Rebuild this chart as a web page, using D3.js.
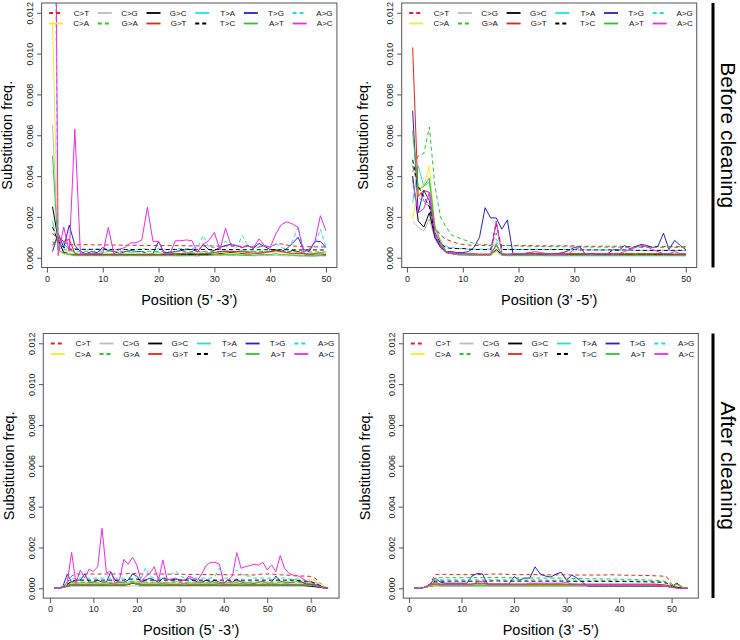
<!DOCTYPE html>
<html><head><meta charset="utf-8">
<script src="https://cdn.jsdelivr.net/npm/d3@7"></script>
<style>
body{margin:0;background:#fff}
svg{display:block}
text{font-family:"Liberation Sans",Arial,Helvetica,sans-serif}
</style>
</head><body>
<svg id="chart" width="740" height="640"></svg>
<script>
// All substitution frequencies below are given in units of 1e-4
const UNIT = 1e-4;
const substitutions = ["C>T","C>G","G>C","T>A","T>G","A>G","C>A","G>A","G>T","T>C","A>T","A>C"];
const subColors = ["#f01e1e","#bdbdbd","#000000","#22e0e0","#2323c8","#22e0e0","#f2ee2a","#2ec42e","#f01e1e","#000000","#2ec42e","#ee2aee"];
const subDashed = [true,false,false,false,false,true,false,true,false,true,false,false];
const yTickValues = [0,0.002,0.004,0.006,0.008,0.010,0.012];
const xTicksTop = [0,10,20,30,40,50];
const xTicksBottomLeft = [0,10,20,30,40,50,60];
const xTicksBottomRight = [0,10,20,30,40,50];
const rowLabels = ["Before cleaning","After cleaning"];
const xTitles = ["Position (5\u2019 -3\u2019)","Position (3\u2019 -5\u2019)"];
const yTitle = "Substitution freq.";

// ---- Before cleaning, 5'-3' (positions 1..50)
const b53_CT=[12,9,7.5,6.5,6.2,6.4,6.4,6.3,6.3,6.3,6.2,6.2,6.2,6.1,6.1,6.1,6.0,6.0,6.0,6.0,5.9,5.9,5.9,5.9,5.8,5.8,5.8,5.8,5.8,5.7,5.7,5.7,5.7,5.6,5.6,5.6,5.6,5.6,5.5,5.6,6.5,6.8,6.2,5.8,5.5,5.4,5.4,5.3,5.3,5.2];
const b53_CG=[65,8,3,2,1.5,1.2,1.2,1.1,1.1,1.0,1.2,1.0,1.1,1.0,1.2,1.1,1.0,1.0,1.1,1.2,1.0,1.1,1.0,0.9,1.0,1.1,0.8,1.2,1.0,1.1,1.0,1.2,1.1,1.0,1.0,1.1,0.9,1.0,1.1,1.0,1.2,1.0,0.9,1.0,0.8,0.5,0.5,0.6,1.0,1.0];
const b53_GC=[25,9,2.5,2,1.5,1.5,1.5,1.6,1.5,1.5,1.6,1.5,1.5,1.5,1.6,1.5,1.5,1.4,1.5,1.5,1.5,1.6,1.5,1.5,1.5,1.6,1.5,1.5,1.6,1.8,2,2.2,2.5,2.2,2,1.8,2,2.2,2.5,3,3.5,3,2.5,3.5,3,2,1.5,2,2.5,1.5];
const b53_TA=[18,5,7,4,2.5,2,2,2.2,2,2.5,2,2,2.2,2,2.5,2.2,2,2,2.2,2.5,2,2,2.2,2,2.5,2.5,2,3,2.5,2.5,3,3.5,3,3,3.5,3,3,2.5,3,2.5,3,3,2.5,2,2.5,2,1.5,2,2.5,2];
const b53_TG=[3,12,5,16,6,3,2,3,2.5,5,3.5,3,2,3,3.5,3,3,2,2,8,2.5,2.5,3,3.5,4,4,3,6.5,4,3.5,5,6,6.5,6,5,6,4.5,7,5.5,4,4,3,4.5,7,10,4,3,8,8,5];
const b53_AG=[300,5,8,5,4.5,4,4,4,4.2,4,4,4,4.2,4,4,4,4.5,4.2,4,4.5,4,4,4.2,4.5,4.5,4.5,5,11,5,5,6,8,7,5,11,6,5,5,6,5,7,5,4,8,15,4,4,6,14,5];
const b53_CA=[115,3,2,2,1.8,1.8,1.8,1.8,2,1.8,1.8,2,1.8,1.8,2,1.8,1.8,2,1.8,1.8,2,2,1.8,2,2,2,2,2.2,2,2,2.5,2.2,2,2,2.5,2.2,2,2,2.5,2.5,3,2.5,2.5,2,2.5,2,2,2.5,2,2];
const b53_GA=[8,5,4,3.5,3.2,3.2,3.2,3.2,3.2,3.2,3.2,3.2,3.1,3.1,3.1,3.1,3.1,3.1,3.1,3.1,3.0,3.0,3.0,3.0,3.0,3.0,3.0,3.0,3.0,3.0,3.0,3.0,3.0,3.0,3.0,3.0,3.0,3.0,3.0,3.2,3.5,3.2,3.0,3.0,2.8,2.8,2.8,2.8,2.8,2.8];
const b53_GT=[6,10,8,9,2,1.5,1.5,1.5,1.5,1.5,1.5,1.5,1.5,1.5,1.5,1.5,1.5,1.5,1.5,1.5,1.8,1.8,2,2,2.2,2,1.8,2,2,2.5,3,3,3.2,3,3,2.5,2.2,2.2,2.5,3,3.5,3,2.5,2,2,2,1.8,1.8,1.8,1.5];
const b53_TC=[15,8,5,4.2,4.1,4.1,4.1,4.1,4.1,4.1,4.1,4.0,4.0,4.0,4.0,4.0,4.0,4.0,4.0,4.0,4.0,4.0,4.0,4.0,4.0,4.0,4.0,4.0,4.0,4.0,4.0,4.0,4.0,4.0,3.9,3.9,3.9,3.9,3.9,3.9,3.9,3.9,3.9,3.9,3.8,3.8,3.8,3.8,3.8,3.8];
const b53_AT=[50,4,2,1.5,1,1,1,1,1,1,1,1,1,1,1,1,1,1,1,1,1,1,1,1,1,1,1,1.2,1.2,1.5,1.5,1.5,1.5,1.5,1.2,1.2,1.2,1.5,1.5,1.5,2,1.5,1.5,1.2,1.2,1.2,1,1,1,1];
const b53_AC=[400,1,15,3,63,1.8,2,2,2,2,14.9,1.8,4.2,5,7.3,7.3,8.7,24.7,8,8,2,1.8,8.3,8.3,8.7,8.3,2.6,6.7,8.3,12.4,3.8,14.5,5.9,5.9,5,5.9,4.7,9.2,5.9,5,11.6,16.2,17.6,16.5,14.9,2.6,4.2,7.5,20.6,13.2];

// ---- Before cleaning, 3'-5' (positions 1..50)
const b35_CT=[45,35,28,25,15,11,9,8,7,6.5,6.2,6,6,6,6,12,6,6,6,6,6,6,5.8,5.8,5.8,5.8,5.8,5.8,5.8,5.8,5.6,5.6,5.6,5.6,5.6,5.6,5.6,5.6,5.5,5.5,5.5,5.5,5.5,5.5,5.5,5.5,5.4,5.4,5.4,5.4];
const b35_CG=[18,15,13,19,9,5,2.5,2,1.5,1.2,1.2,1.3,1.2,1.1,1.2,3,1.2,1.2,1.3,1.2,1.2,1.1,1.2,1.2,1.2,1.3,1.2,1.2,1.1,1.2,1.2,1.2,1.3,1.2,1.2,1.1,1.2,1.2,1.2,1.3,1.2,1.2,1.1,1.2,1.2,1.2,1.3,1.2,1.2,1.2];
const b35_GC=[40,18,15,22,10,6,2.5,2,1.5,1.5,1.5,1.5,1.4,1.5,1.5,4,1.5,1.5,1.6,1.5,1.5,1.5,1.4,1.5,1.5,1.5,1.6,1.5,1.5,1.5,1.5,1.4,1.5,1.5,1.5,1.6,1.5,1.5,1.5,1.5,1.4,1.5,1.5,1.5,1.6,1.5,1.5,1.5,1.5,1.5];
const b35_TA=[27,45,35,37,15,8,3,2,2,1.5,1.5,1.5,1.5,1.5,1.5,3,1.2,1.2,1.2,1.2,1.2,1.2,1.2,1.2,1,1,1,1,1,1,1,1,1,1,1,1,1,1,1,1,1,1,1,1,1,1,1,1,1,1];
const b35_TG=[72,22,33,28,10,5,3,3,2.5,2.5,3,5,10,24.5,19.5,19.5,14,18.5,2,1.5,2,2.5,2,1.5,1.5,1.5,2,2.5,3.5,5,5.5,1.5,2,2,1.5,2,4,3.5,6,4.5,5.5,6.5,6,5,5.5,12,4,8.5,6,4];
const b35_AG=[30,30,27,25,14,8,5.5,5,4.5,4.5,4.2,4.2,4.2,4.2,4.2,8,4.2,4,4,4,4,4,4,4,4,4,4,4,4,4,3.8,3.8,3.8,3.8,3.8,3.8,3.8,3.8,3.8,3.8,3.6,3.6,3.6,3.6,3.6,3.6,3.6,3.5,3.5,3.5];
const b35_CA=[19,35,35,45,15,7,3,2,1.5,1.5,1.2,1.2,1.2,1.2,1.2,3,1.2,1.2,1.2,1.2,1.2,1.2,1.2,1.2,1.2,1.2,1.2,1.2,1.2,1.2,1.2,1.2,1.2,1.2,1.2,1.2,1.2,1.2,1.2,1.2,1.2,1.2,1.2,1.2,1.2,1.2,1.2,1.2,1.2,1.2];
const b35_GA=[42,50,51,64,35,20,15,11,10,9,8,7,6.5,6.5,6,9,6,6,5.8,5.8,5.6,5.6,5.5,5.5,5.5,5.4,5.4,5.4,5.3,5.3,5.3,5.2,5.2,5.2,5.2,5.1,5.1,5.1,5.1,5,5,5,5,5,5,5,5,5,5,5];
const b35_GT=[103,30,33,32,12,7,3,2.5,2,2,1.8,1.8,1.8,1.8,1.8,6,1.8,1.8,1.8,2,2,2,2,2,2,2,2,2,2,2,2,2,2,2,2,2,2,2,2,2,2,2,2,2,2,2,2,1.8,1.8,1.8];
const b35_TC=[48,35,30,25,12,7,5,4.5,4.5,4.5,4.2,4,4,4,4,17,4,4,4,4,4,4,4,4,4,4,4,4,4,4,3.8,3.8,3.8,3.8,3.8,3.8,3.8,3.8,3.8,3.8,3.6,3.6,3.6,3.6,3.6,3.6,3.6,3.6,3.6,3.6];
const b35_AT=[62,33,35,39,15,8,3,2,1.5,1.5,1.2,1.2,1.2,1.2,1.2,7,1.2,1,1,1,1,1,1,1,1,1,1,1,1,1,1,1,1,1,1,1,1,1,1,1,1,1,1,1,1,1,1,1,1,1];
const b35_AC=[38,22,24,32,12,6,3,2,2,2,2,2,1.5,1.5,1.5,18,2,1.5,2,2,2,2.5,3,2.5,2,1.5,1.5,1.5,2,4,5,2,1.5,2,2,2,1.5,2,3,4,5,6,5.5,4,3,2,2,3,2,2];

// ---- After cleaning, 5'-3' (positions 1..64)
const a53_CT=[0,0,1,3,6,7,7,7, 7,7,7,7,7,7,7,7, 7,7.2,7.3,7.2,7,7,7,7, 7,7,6.9,6.9,6.9,6.9,6.8,6.8, 6.8,6.8,6.8,6.7,6.7,6.7,6.7,6.7, 6.6,6.6,6.6,6.6,6.6,6.6,6.5,6.8, 7,7,7,6.8,6.6,6.5,6.4,6.2, 6,6,6,5.8,5,3,1,0];
const a53_CG=[0,0,0.3,0.8,1,1,1,1.1, 1,1,1.1,1,1,1,1.1,1, 1,1,1.2,1.1,1,1,1,1.1, 1,1,1,1,1.1,1,1,1, 1.1,1,1,1,1,1.1,1,1, 1,1,1.1,1,1,1,1,1.1, 1,1,1,1,1.1,1,1,1, 1,1,1,1,0.8,0.5,0.2,0];
const a53_GC=[0,0,0.5,1,1.5,1.5,1.5,1.5, 1.5,1.5,1.5,1.5,1.5,1.5,1.5,1.5, 1.5,1.8,2.5,2,1.5,1.5,1.5,1.5, 1.5,1.5,1.5,1.5,1.5,1.5,1.5,1.5, 1.5,1.5,1.5,1.5,1.5,1.5,1.5,1.5, 1.5,1.5,1.5,1.5,1.5,1.5,1.5,1.5, 1.5,1.5,1.5,1.5,1.5,1.5,1.5,1.5, 1.5,1.5,1.2,1,0.8,0.5,0.2,0];
const a53_TA=[0,0,0.5,2,3,2.5,3,3, 2.5,3,2.5,2.5,3,2.5,2.5,3, 2.5,3,3.5,3,2.5,3,2.5,3, 2.5,3,2.5,3,3.5,2.5,2.5,3, 2.5,2.5,3,2.5,2.5,3,2.5,2.5, 3,2.5,3,3.5,3,2.5,2.5,3, 2.5,3,2.5,2.5,3,2.5,2.5,4, 5,3,2.5,2,1.5,1,0.5,0];
const a53_TG=[0,0,1,7,3,4,4,7, 3,3,4,3,3,8,4,3, 3,4,7,6,3,4,5,4, 3,5,4.5,4,4.5,4,4,5, 4,3,3,4,3,4,3,2.5, 4,3,4.5,3,2.5,3,2.5,3, 3.5,2.5,3,6,3.5,3,3,3, 3.5,3,2,2,2,1,0.5,0];
const a53_AG=[0,0,1,3,4.5,5,5,5, 5,5,5,5,5,5,5,5, 5,5,6,6,5,10,6,5, 5,5,6,7,8.5,6,5,5, 5,5,5,5,5,6,10,5, 5,6,9,7,6,6,5,5, 5,5,5,5,5,5,4.5,4.5, 4,4,4,3.5,3,2,1,0];
const a53_CA=[0,0,0.5,1.5,2.5,2.5,2.5,2.5, 2.5,2.5,2.5,2.5,2.5,2.5,2.5,2.5, 2.5,2.5,3,3,2.5,2.5,2.5,2.5, 2.5,2.5,2.5,2.5,2.5,2.5,2.5,2.5, 2.5,2.5,2.5,2.5,2.5,2.5,2.5,2.5, 2.5,2.5,2.5,2.5,2.5,2.8,3,3, 3,3,3,3,3,3,3.2,3.5, 3.5,4,4,4.2,4,2.5,1,0];
const a53_GA=[0,0,0.5,2,3,3,3,3, 3,3,3,3,3,3,3,3, 3,3.2,3.5,3.5,3,3,3,3, 3,3,3,3,3,3,3,3, 3,3,3,3,3,3,3,3, 3,3,3,3,3,3,3,3, 3,3,3,3,3,3,3,3, 3,3,3,3,2.5,1.5,0.5,0];
const a53_GT=[0,0,0.5,1.5,2,2,2,2, 2,2,2,2,2,2.2,2,2, 2,2,2.5,2.5,2,2,2,2, 2,2.2,2,2,2,2,2.2,2, 2,2,2,2,2,2,2.2,2, 2,2,2,2.2,2,2,2,2, 2,2,2,2,2,2,2,2, 2,2,2,2,1.5,1,0.5,0];
const a53_TC=[0,0,0.5,2,3.5,4,4,4, 4,4,4,4,4,4,4,4, 4,4.5,4.5,4.5,4,4,4,4, 4,4,4,4,4,4,4,4, 4,4,4,4,4,4,4,4, 4,4,4,4,4,4,4,4, 4,4,4,4,4,4,4,4, 3.8,3.6,3.4,3.2,2.5,1.5,0.5,0];
const a53_AT=[0,0,0.5,1,1.5,1.5,1.5,1.5, 1.5,1.5,1.5,1.5,1.5,1.5,1.5,1.5, 1.5,2,3,2,1.5,1.5,1.5,1.5, 1.5,1.5,1.5,1.5,1.5,1.5,1.5,1.5, 1.5,1.5,1.5,1.5,1.5,1.5,1.5,1.5, 1.5,1.5,1.5,1.5,1.5,1.5,1.5,1.5, 1.5,1.5,1.5,1.5,1.5,1.5,1.5,1.5, 1.5,1.5,1.5,1.5,1.2,0.8,0.3,0];
const a53_AC=[0,0,0.5,3,17.6,2.4,9,5, 9.3,8.2,10.6,29.4,7.7,8.2,2.4,4, 14.2,11.8,15.2,11.4,3.3,5.7,7.3,10.6, 4,13.9,4,4.6,5,3.3,4,6, 5,4,7.3,11.4,12.7,12.7,11.8,2.4, 4,6,17.5,9.8,10.6,11.1,11.8,11.4, 12.7,9,11.4,8.2,16,9.8,7.3,6.5, 6.2,4.9,3.6,3,2,1,0.3,0];

// ---- After cleaning, 3'-5' (positions 1..53)
const a35_CT=[0,0,0.5,2,6.8,6.8,6.8,6.7,6.7,6.7, 6.7,6.7,6.8,6.8,6.8,7,7,6.9,6.8,6.8, 6.7,6.7,6.7,6.7,6.6,6.6,6.6,6.6,6.6,6.6, 6.5,6.5,6.5,6.5,6.5,6.5,6.5,6.6,6.6,6.5, 6.4,6.4,6.4,6.3,6.3,6.2,6.1,6,5.8,2, 0.5,0,0];
const a35_CG=[0,0,0.3,0.8,1,1,1,1,1,1, 1,1,1.1,1.1,1,1,1,1,1,1, 1,1,1,1,1,1,1,1,1,1, 1,1,1,1,1,1,1,1,1,1, 1,1,1,1,1,1,1,1,0.8,0.5, 0.2,0,0];
const a35_GC=[0,0,0.5,1,1.5,1.5,1.5,1.5,1.5,1.5, 1.5,1.5,1.6,1.6,1.5,1.5,1.5,1.5,1.5,1.5, 1.5,1.5,1.5,1.5,1.5,1.5,1.5,1.5,1.5,1.5, 1.5,1.5,1.5,1.5,1.5,1.5,1.5,1.5,1.5,1.5, 1.5,1.5,1.5,1.5,1.5,1.5,1.4,1.3,1.2,0.8, 2.5,0.5,0];
const a35_TA=[0,0,0.5,1.5,3,2,2,2,2,2, 2,2,2.2,2.2,2,2,2,2,2,2, 2,2,2,2,2,2,2,2,2,2, 2,2,2,2,2,2,2,2,2,2, 2,2,2,2,2,2,2,1.8,1.5,0.8, 0.3,0,0];
const a35_TG=[0,0,0.5,2,5,3,2.5,2.5,2.5,2.5, 2.5,6,7.3,7,2,2,2,2,2,5.7, 4,5,5,10.5,7,6,5.5,7,7.8,4, 6.5,5,3,1,1,1,1,1,1,1, 1,1,1,1,1,1,1,1,1,0.5, 0.2,0,0];
const a35_AG=[0,0,0.5,2,4.2,4.2,4.2,4.2,4.2,4.2, 4.2,4.2,4.2,4.2,4.2,4.2,4.2,4.2,4.2,4.2, 4.1,4.1,4.1,4.1,4.1,4,4,4,4,4, 4,4,3.9,3.9,3.9,3.8,3.8,3.8,3.7,3.7, 3.7,3.6,3.6,3.6,3.5,3.5,3.5,3.4,3,1.5, 0.5,0,0];
const a35_CA=[0,0,0.5,1,1.5,1.5,1.5,1.5,1.5,1.5, 1.5,1.5,1.5,1.5,1.5,1.5,1.5,1.5,1.5,1.5, 1.5,1.5,1.5,1.5,1.5,1.5,1.5,1.5,1.5,1.5, 1.5,1.5,1.5,1.5,1.5,1.5,1.5,1.5,1.5,1.5, 1.5,1.5,1.5,1.5,1.5,1.5,1.5,1.5,1.2,0.8, 2,0.5,0];
const a35_GA=[0,0,0.5,2,5,5.2,5.2,5.2,5.2,5.2, 5.2,5.2,5.2,5.2,5.2,5.3,5.3,5.2,5.2,5.1, 5,5,5,5,5,5,5,5,5,5, 4.8,4.8,4.8,4.7,4.7,4.6,4.6,4.6,4.5,4.5, 4.4,4.4,4.3,4.2,4.1,4,3.9,3.8,3.2,1.5, 0.5,0,0];
const a35_GT=[0,0,0.5,1.5,2,2,2,2,2,2, 2,2,2.5,2.5,2,2,2,2,2,2, 2,2,2,2,2,2,2,2,2,2, 2,2,2,2,2,2,2,2,2,2, 2,2,2,2,2,2,2,1.8,1.5,1, 0.5,0,0];
const a35_TC=[0,0,0.5,2,3.5,3.5,3.5,3.5,3.5,3.5, 3.5,3.5,3.5,3.5,3.5,3.6,3.6,3.5,3.5,3.5, 3.5,3.5,3.5,3.5,3.5,3.5,3.5,3.5,3.5,3.5, 3.4,3.4,3.4,3.4,3.4,3.4,3.4,3.4,3.3,3.3, 3.3,3.3,3.2,3.2,3.2,3.1,3,3,2.5,1.2, 0.4,0,0];
const a35_AT=[0,0,0.5,1.5,2.5,1.2,1.2,1.2,1.2,1.2, 1.2,1.2,1.2,1.2,1.2,1.2,1.2,1.2,1.2,1.2, 1.2,1.2,1.2,1.2,1.2,1.2,1.2,1.2,1.2,1.2, 1.2,1.2,1.2,1.2,1.2,1.2,1.2,1.2,1.2,1.2, 1.2,1.2,1.2,1.2,1.2,1.2,1.2,1.2,1,0.6, 2,0.4,0];
const a35_AC=[0,0,0.5,2,3,2,2,2,2,2, 2,2,3,3.5,2,2,2,2,2,2, 2,2,2.5,2.5,2.5,2.5,2.5,2.5,2.5,3, 2,2,1.5,1.5,1.5,1.5,1.5,1.5,1.5,1.5, 1.5,1.5,1.5,1.5,1.5,1.5,1.5,1.2,1,0.5, 0,0,0];

const panels = [
  {series:[b53_CT,b53_CG,b53_GC,b53_TA,b53_TG,b53_AG,b53_CA,b53_GA,b53_GT,b53_TC,b53_AT,b53_AC], xTicks:xTicksTop, xTitle:xTitles[0], box:[41.6,336.9,3,267.5]},
  {series:[b35_CT,b35_CG,b35_GC,b35_TA,b35_TG,b35_AG,b35_CA,b35_GA,b35_GT,b35_TC,b35_AT,b35_AC], xTicks:xTicksTop, xTitle:xTitles[1], box:[401.7,696.7,3,267.5]},
  {series:[a53_CT,a53_CG,a53_GC,a53_TA,a53_TG,a53_AG,a53_CA,a53_GA,a53_GT,a53_TC,a53_AT,a53_AC], xTicks:xTicksBottomLeft, xTitle:xTitles[0], box:[43.3,339,333.5,598.1]},
  {series:[a35_CT,a35_CG,a35_GC,a35_TA,a35_TG,a35_AG,a35_CA,a35_GA,a35_GT,a35_TC,a35_AT,a35_AC], xTicks:xTicksBottomRight, xTitle:xTitles[1], box:[403.3,698.3,333.5,598.1]}
];

const svg = d3.select("#chart");
const axisColor = "#555";

panels.forEach((p, pi) => {
  const [x0,x1,y0,y1] = p.box;
  const n = p.series[0].length;
  const pad = 0.04*(n-1);
  const x = d3.scaleLinear().domain([1-pad, n+pad]).range([x0,x1]);
  const y = d3.scaleLinear().domain([-0.04*0.012, 0.012*1.04]).range([y1,y0]);
  const g = svg.append("g");
  const clipId = "clip"+pi;
  g.append("clipPath").attr("id",clipId).append("rect")
    .attr("x",x0).attr("y",y0).attr("width",x1-x0).attr("height",y1-y0);

  const line = d3.line().x((d,i)=>x(i+1)).y(d=>y(d*UNIT));
  const lg = g.append("g").attr("clip-path",`url(#${clipId})`);
  p.series.forEach((s, si) => {
    lg.append("path").attr("d", line(s)).attr("fill","none")
      .attr("stroke", subColors[si]).attr("stroke-width",1)
      .attr("stroke-dasharray", subDashed[si] ? "4,3" : null)
      .attr("stroke-linejoin","round");
  });

  // box
  g.append("rect").attr("x",x0).attr("y",y0).attr("width",x1-x0).attr("height",y1-y0)
    .attr("fill","none").attr("stroke",axisColor).attr("stroke-width",1);

  // x axis
  const xa = g.append("g").attr("transform",`translate(0,${y1})`)
    .call(d3.axisBottom(x).tickValues(p.xTicks).tickSize(5).tickPadding(3));
  xa.select(".domain").remove();
  xa.selectAll("line").attr("stroke",axisColor);
  xa.selectAll("text").attr("font-size",9).attr("fill","#222")
    .attr("font-family",'"Liberation Sans",Arial,sans-serif');

  // y axis
  const ya = g.append("g").attr("transform",`translate(${x0},0)`)
    .call(d3.axisLeft(y).tickValues(yTickValues).tickFormat(d3.format(".3f")).tickSize(4.5));
  ya.select(".domain").remove();
  ya.selectAll("line").attr("stroke",axisColor);
  ya.selectAll("text").attr("font-size",9).attr("fill","#222")
    .attr("font-family",'"Liberation Sans",Arial,sans-serif')
    .attr("transform","rotate(-90)").attr("x",0).attr("y",-8.5).attr("dy",0)
    .attr("text-anchor","middle");

  // axis titles
  g.append("text").attr("x",(x0+x1)/2).attr("y",y1+37).attr("text-anchor","middle")
    .attr("font-size",14.5).text(p.xTitle);
  const yl = (pi%2===0) ? x0-29.5 : x0-33.5;
  g.append("text").attr("transform",`translate(${yl},${(y0+y1)/2}) rotate(-90)`)
    .attr("text-anchor","middle").attr("font-size",14.5).text(yTitle);

  // legend
  const lgd = g.append("g");
  substitutions.forEach((name, i) => {
    const col = i % 6, row = Math.floor(i/6);
    const lx = x0 + 7.5 + col*48.7;
    const ly = y0 + 10 + row*10.5;
    lgd.append("line").attr("x1",lx).attr("x2",lx+14).attr("y1",ly).attr("y2",ly)
      .attr("stroke",subColors[i]).attr("stroke-width",1.8)
      .attr("stroke-dasharray", subDashed[i] ? "4,3" : null);
    lgd.append("text").attr("x", x0 + 47.5 + col*48.7).attr("y", ly).attr("dy","0.35em")
      .attr("text-anchor","end").attr("font-size",8).attr("fill","#111").text(name);
  });
});

// row labels with separator bars
[[3,267.5],[333.5,598.1]].forEach(([t,b], ri) => {
  svg.append("line").attr("x1",713).attr("x2",713).attr("y1",t).attr("y2",b)
    .attr("stroke","#000").attr("stroke-width",3);
  svg.append("text").attr("transform",`translate(721,${(t+b)/2}) rotate(90)`)
    .attr("text-anchor","middle").attr("font-size",21).text(rowLabels[ri]);
});
</script>
</body></html>
